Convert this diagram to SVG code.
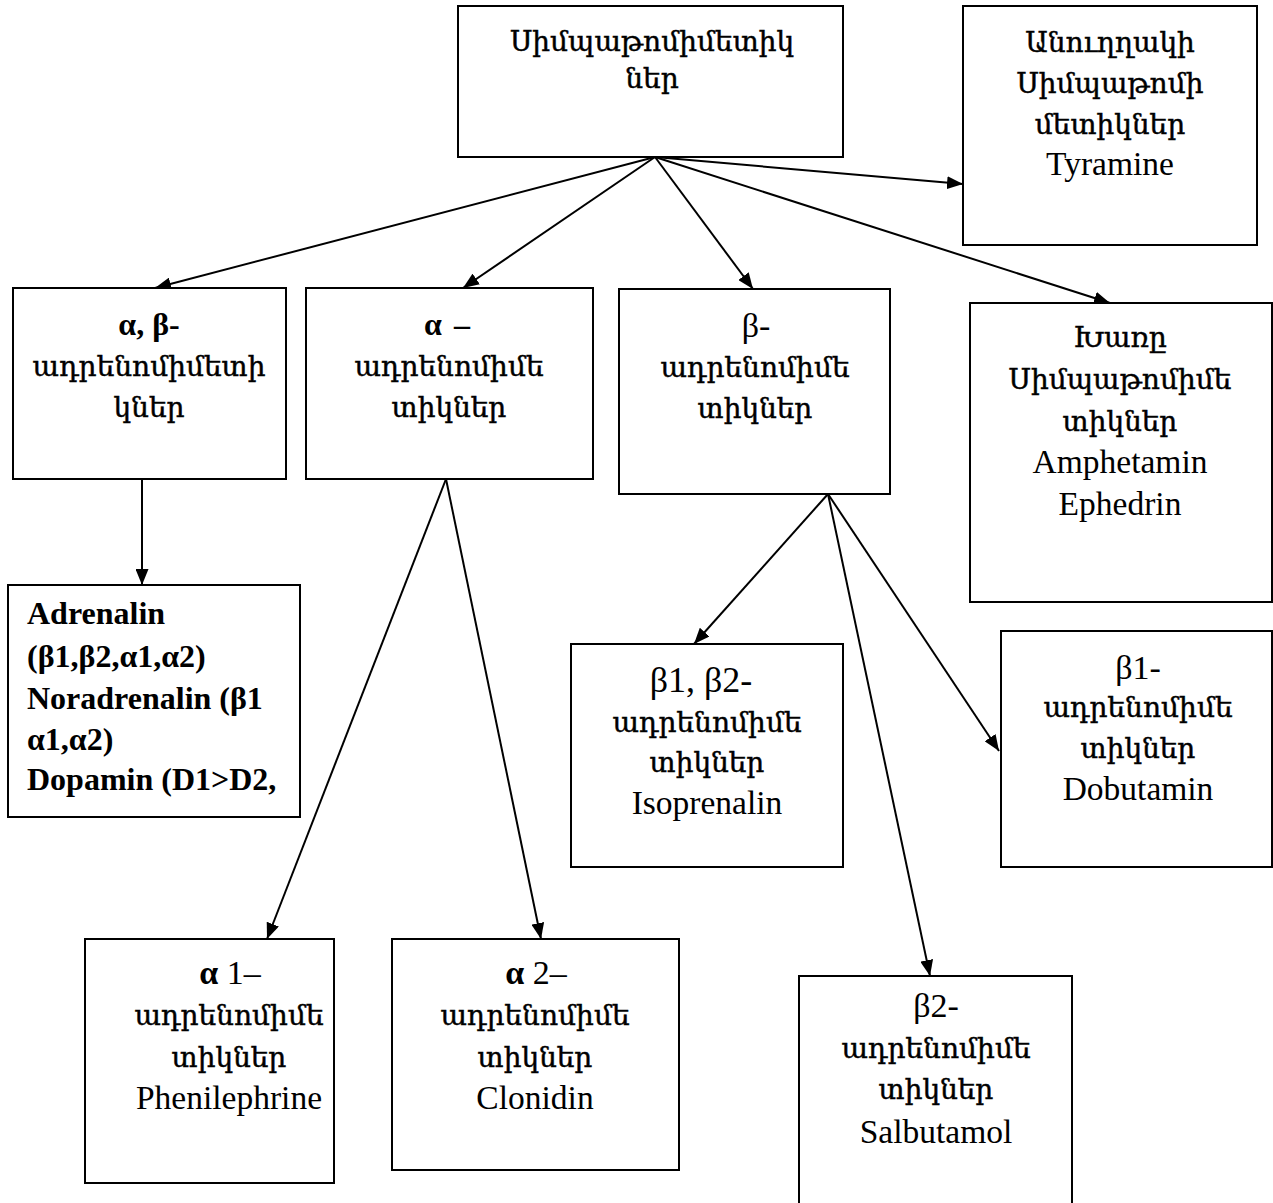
<svg xmlns="http://www.w3.org/2000/svg" width="1273" height="1203" viewBox="0 0 1273 1203">
  <defs>
    <marker id="arrow" markerUnits="userSpaceOnUse" markerWidth="16" markerHeight="13" refX="16" refY="6.5" orient="auto">
      <path d="M0,0 L16,6.5 L0,13 Z" fill="#000"/>
    </marker>
    <style>
      .box { fill: #fff; stroke: #000; stroke-width: 2; }
      .lbl { font-family: "Liberation Serif", "DejaVu Serif", serif; font-size: 28px; fill: #000; text-anchor: middle; stroke: #000; stroke-width: 0.45; }
      .lat { font-size: 33.5px; stroke: none; }
      .grk { font-size: 34px; stroke: none; }
      .left { text-anchor: start; }
      .b { font-weight: bold; font-size: 32px; stroke: none; }
      .conn line { stroke: #000; stroke-width: 2; marker-end: url(#arrow); }
    </style>
  </defs>
  <rect width="1273" height="1203" fill="#fff"/>

  <!-- connectors -->
  <g class="conn" id="connectors">
    <line x1="655" y1="157" x2="155" y2="288"/>
    <line x1="655" y1="157" x2="463" y2="288"/>
    <line x1="655" y1="157" x2="753" y2="289"/>
    <line x1="655" y1="157" x2="963" y2="184"/>
    <line x1="655" y1="157" x2="1110" y2="303"/>
    <line x1="142" y1="479" x2="142" y2="585"/>
    <line x1="446" y1="479" x2="267" y2="939"/>
    <line x1="446" y1="479" x2="541" y2="939"/>
    <line x1="828" y1="494" x2="694" y2="644"/>
    <line x1="828" y1="494" x2="999" y2="751"/>
    <line x1="828" y1="494" x2="930" y2="976"/>
  </g>

  <!-- root -->
  <g id="sympathomimetics">
    <rect class="box" x="458" y="6" width="385" height="151"/>
    <text class="lbl" x="652" y="51">Սիմպաթոմիմետիկ</text>
    <text class="lbl" x="652" y="88">ներ</text>
  </g>

  <g id="indirect">
    <rect class="box" x="963" y="6" width="294" height="239"/>
    <text class="lbl" x="1110" y="52">Անուղղակի</text>
    <text class="lbl" x="1110" y="93">Սիմպաթոմի</text>
    <text class="lbl" x="1110" y="134">մետիկներ</text>
    <text class="lbl lat" x="1110" y="175">Tyramine</text>
  </g>

  <g id="alpha-beta">
    <rect class="box" x="13" y="288" width="273" height="191"/>
    <text class="lbl b" x="149" y="335">α, β-</text>
    <text class="lbl" x="149" y="376">ադրենոմիմետի</text>
    <text class="lbl" x="149" y="417">կներ</text>
  </g>

  <g id="alpha">
    <rect class="box" x="306" y="288" width="287" height="191"/>
    <text class="lbl b" x="447" y="335">α <tspan dx="4">–</tspan></text>
    <text class="lbl" x="449" y="376">ադրենոմիմե</text>
    <text class="lbl" x="449" y="417">տիկներ</text>
  </g>

  <g id="beta">
    <rect class="box" x="619" y="289" width="271" height="205"/>
    <text class="lbl grk" x="756" y="337">β-</text>
    <text class="lbl" x="755" y="377">ադրենոմիմե</text>
    <text class="lbl" x="755" y="418">տիկներ</text>
  </g>

  <g id="mixed">
    <rect class="box" x="970" y="303" width="302" height="299"/>
    <text class="lbl" x="1120" y="347">Խառը</text>
    <text class="lbl" x="1120" y="389">Սիմպաթոմիմե</text>
    <text class="lbl" x="1120" y="431">տիկներ</text>
    <text class="lbl lat" x="1120" y="473">Amphetamin</text>
    <text class="lbl lat" x="1120" y="515">Ephedrin</text>
  </g>

  <g id="catecholamines">
    <rect class="box" x="8" y="585" width="292" height="232"/>
    <text class="lbl left b" x="27" y="624">Adrenalin</text>
    <text class="lbl left b" x="27" y="667">(β1,β2,α1,α2)</text>
    <text class="lbl left b" x="27" y="709">Noradrenalin (β1</text>
    <text class="lbl left b" x="27" y="750">α1,α2)</text>
    <text class="lbl left b" x="27" y="790">Dopamin (D1&gt;D2,</text>
  </g>

  <g id="beta1-beta2">
    <rect class="box" x="571" y="644" width="272" height="223"/>
    <text class="lbl grk" x="701" y="692" style="font-size:36px">β1, β2-</text>
    <text class="lbl" x="707" y="732">ադրենոմիմե</text>
    <text class="lbl" x="707" y="772">տիկներ</text>
    <text class="lbl lat" x="707" y="814">Isoprenalin</text>
  </g>

  <g id="beta1">
    <rect class="box" x="1001" y="631" width="271" height="236"/>
    <text class="lbl grk" x="1138" y="679">β1-</text>
    <text class="lbl" x="1138" y="717">ադրենոմիմե</text>
    <text class="lbl" x="1138" y="758">տիկներ</text>
    <text class="lbl lat" x="1138" y="800">Dobutamin</text>
  </g>

  <g id="alpha1">
    <rect class="box" x="85" y="939" width="249" height="244"/>
    <text class="lbl grk" x="230" y="984"><tspan font-weight="bold">α</tspan> 1–</text>
    <text class="lbl" x="229" y="1025">ադրենոմիմե</text>
    <text class="lbl" x="229" y="1067">տիկներ</text>
    <text class="lbl lat" x="229" y="1109">Phenilephrine</text>
  </g>

  <g id="alpha2">
    <rect class="box" x="392" y="939" width="287" height="231"/>
    <text class="lbl grk" x="536" y="984"><tspan font-weight="bold">α</tspan> 2–</text>
    <text class="lbl" x="535" y="1025">ադրենոմիմե</text>
    <text class="lbl" x="535" y="1067">տիկներ</text>
    <text class="lbl lat" x="535" y="1109">Clonidin</text>
  </g>

  <g id="beta2">
    <rect class="box" x="799" y="976" width="273" height="240"/>
    <text class="lbl grk" x="936" y="1017">β2-</text>
    <text class="lbl" x="936" y="1058">ադրենոմիմե</text>
    <text class="lbl" x="936" y="1099">տիկներ</text>
    <text class="lbl lat" x="936" y="1143">Salbutamol</text>
  </g>
</svg>
